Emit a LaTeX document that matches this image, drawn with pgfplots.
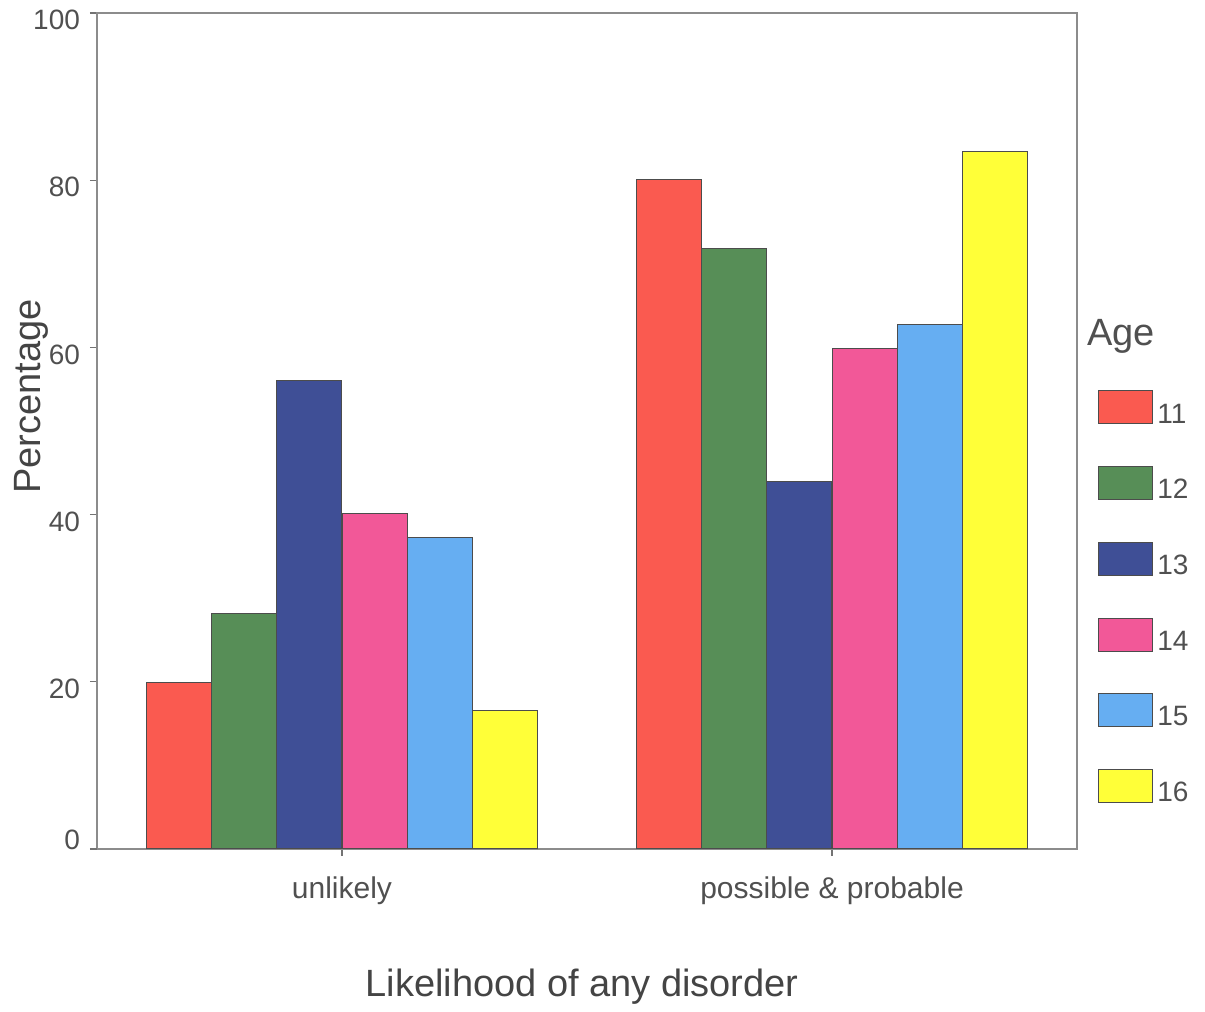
\documentclass[border=0pt]{standalone}
\usepackage{pgfplots}
\pgfplotsset{compat=1.18}
\usepackage{fontspec}
\setmainfont{Liberation Sans}
\definecolor{c11}{HTML}{FA5A50}
\definecolor{c12}{HTML}{578E57}
\definecolor{c13}{HTML}{3F4F96}
\definecolor{c14}{HTML}{F25898}
\definecolor{c15}{HTML}{66AEF2}
\definecolor{c16}{HTML}{FFFF38}
\definecolor{txt}{HTML}{505050}
\begin{document}
\begin{tikzpicture}
\begin{axis}[
  width=490pt, height=418pt, scale only axis,
  xmin=-0.5, xmax=1.5, ymin=0, ymax=100,
  ybar=0pt, bar width=0.1333,
  clip=false,
  xtick={0,1}, xticklabels={unlikely, possible \& probable},
  ytick={20,40,60,80,100},
  extra y ticks={0},
  extra y tick style={yticklabel style={yshift=8pt}},
  tick pos=left, tick align=outside, major tick length=3.5pt,
  tick style={draw=black!55, line width=0.6pt},
  axis line style={draw=black!45, line width=0.6pt},
  /pgf/number format/assume math mode=true,
  yticklabel style={font=\fontsize{14}{16}\selectfont, text=txt, xshift=-1.5pt, yshift=-3.5pt},
  xticklabel style={font=\fontsize{15}{17}\selectfont, text=txt, yshift=-7pt},
  xlabel={Likelihood of any disorder},
  ylabel={Percentage},
  xlabel style={font=\fontsize{19}{22}\selectfont, text=txt!85!black, at={(axis description cs:0.495,-0.177)}, anchor=base},
  ylabel style={font=\fontsize{19}{22}\selectfont, text=txt!85!black, at={(axis description cs:-0.058,0.541)}, anchor=base},
  legend style={at={(rel axis cs:1.0214,0.549)}, anchor=north west, draw=none, fill=none, inner sep=0pt,
    font=\fontsize{14}{16}\selectfont, text=txt, row sep=18pt,
    /tikz/every odd column/.style={column sep=0pt}},
  legend cell align=left,
  legend image code/.code={\draw[#1,draw=black!70] (0pt,-4.5pt) rectangle (27pt,12pt);},
  every axis plot/.append style={draw=black!70, line width=0.5pt},
]
\addplot[fill=c11, bar shift=-0.3333] coordinates {(0,19.9) (1,80.1)};
\addplot[fill=c12, bar shift=-0.2] coordinates {(0,28.2) (1,71.8)};
\addplot[fill=c13, bar shift=-0.0667] coordinates {(0,56.0) (1,44.0)};
\addplot[fill=c14, bar shift=0.0667] coordinates {(0,40.1) (1,59.9)};
\addplot[fill=c15, bar shift=0.2] coordinates {(0,37.3) (1,62.7)};
\addplot[fill=c16, bar shift=0.3333] coordinates {(0,16.6) (1,83.4)};
\legend{11,12,13,14,15,16}
\node[anchor=base west, font=\fontsize{19}{22}\selectfont, text=txt, inner sep=0pt] at (rel axis cs:1.0102,0.6017) {Age};
\path (rel axis cs:0,0) ++(-48.5pt,-80.5pt) rectangle ++(602.5pt,505pt);
\end{axis}
\end{tikzpicture}
\end{document}
